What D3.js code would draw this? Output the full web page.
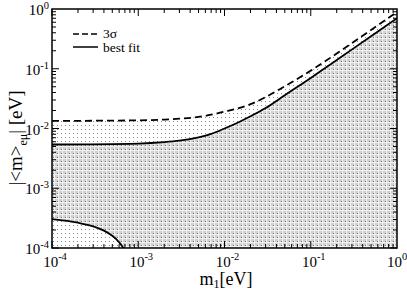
<!DOCTYPE html>
<html>
<head>
<meta charset="utf-8">
<script src="https://cdn.jsdelivr.net/npm/d3@7"></script>
<style>
  body { margin: 0; background: #fff; }
  svg text { font-family: "Liberation Serif", "Times New Roman", Tinos, "DejaVu Serif", serif; }
</style>
</head>
<body>
<svg width="407" height="291"></svg>
<script>
// values
var m1Values   = [1e-4, 1e-3, 2e-3, 3e-3, 5e-3, 7e-3, 1e-2, 1.5e-2, 2e-2, 3e-2, 5e-2, 1e-1, 2e-1, 5e-1, 1];
var bestFit    = [5.4e-3, 5.6e-3, 5.9e-3, 6.25e-3, 7.1e-3, 8.1e-3, 1.0e-2, 0.0130, 0.0160, 0.022, 0.036, 0.070, 0.140, 0.35, 0.70];
var sigma3     = [0.0134, 0.0137, 0.0141, 0.0146, 0.0156, 0.0170, 0.0192, 0.0222, 0.0255, 0.0335, 0.051, 0.093, 0.180, 0.445, 0.89];
var lowM1      = [1e-4, 2e-4, 3e-4, 4e-4, 5e-4, 6e-4, 6.7e-4, 7.2e-4];
var lowBest    = [3.05e-4, 2.65e-4, 2.3e-4, 1.95e-4, 1.6e-4, 1.25e-4, 1.0e-4, 0.8e-4];
var tickExps   = [-4, -3, -2, -1, 0];

const pLeft = 52, pRight = 397, pTop = 9, pBottom = 248;

var svg = d3.select('svg');

var x = d3.scaleLog().domain([1e-4, 1]).range([pLeft, pRight]);
var y = d3.scaleLog().domain([1e-4, 1]).range([pBottom, pTop]);

var defs = svg.append('defs');

// sparse dots
var sparse = defs.append('pattern').attr('id', 'sparse')
    .attr('patternUnits', 'userSpaceOnUse').attr('width', 4).attr('height', 4);
sparse.append('rect').attr('width', 4).attr('height', 4).attr('fill', '#fff');
sparse.append('rect').attr('x', 1).attr('y', 1).attr('width', 1).attr('height', 1).attr('fill', '#8a8a8a');

// dense grid
var dense = defs.append('pattern').attr('id', 'dense')
    .attr('patternUnits', 'userSpaceOnUse').attr('width', 4).attr('height', 4);
dense.append('rect').attr('width', 4).attr('height', 4).attr('fill', '#d0d0d0');
dense.append('rect').attr('x', 0).attr('y', 2).attr('width', 4).attr('height', 1).attr('fill', '#f2f2f2');
dense.append('rect').attr('x', 2).attr('y', 0).attr('width', 1).attr('height', 4).attr('fill', '#f2f2f2');
dense.append('rect').attr('x', 1).attr('y', 1).attr('width', 1).attr('height', 1).attr('fill', '#707070');

defs.append('clipPath').attr('id', 'plot')
  .append('rect').attr('x', pLeft).attr('y', pTop)
  .attr('width', pRight - pLeft).attr('height', pBottom - pTop);

var plot = svg.append('g').attr('clip-path', 'url(#plot)');

function pts(xs, ys) { return xs.map((v, i) => [v, ys[i]]); }

var area = d3.area()
    .x(d => x(d[0])).y0(pBottom + 5).y1(d => y(d[1]))
    .curve(d3.curveMonotoneX);
var line = d3.line()
    .x(d => x(d[0])).y(d => y(d[1]))
    .curve(d3.curveMonotoneX);

plot.append('path').attr('d', area(pts(m1Values, sigma3))).attr('fill', 'url(#sparse)');
plot.append('path').attr('d', area(pts(m1Values, bestFit))).attr('fill', 'url(#dense)');
plot.append('path').attr('d', area(pts(lowM1, lowBest))).attr('fill', 'url(#sparse)');

plot.append('path').attr('d', line(pts(m1Values, sigma3)))
    .attr('fill', 'none').attr('stroke', '#000').attr('stroke-width', 1.8)
    .attr('stroke-dasharray', '7,4');
plot.append('path').attr('d', line(pts(m1Values, bestFit)))
    .attr('fill', 'none').attr('stroke', '#000').attr('stroke-width', 1.8);
plot.append('path').attr('d', line(pts(lowM1, lowBest)))
    .attr('fill', 'none').attr('stroke', '#000').attr('stroke-width', 1.8);

// ticks on all four sides, pointing inwards
var ticks = svg.append('g').attr('stroke', '#000').attr('stroke-width', 1);
tickExps.slice(0, -1).forEach(function (e) {
  for (var k = 1; k <= 9; k++) {
    var v = k * Math.pow(10, e);
    var len = k === 1 ? 7 : 4;
    var px = x(v), py = y(v);
    ticks.append('line').attr('x1', px).attr('x2', px).attr('y1', pBottom).attr('y2', pBottom - len);
    ticks.append('line').attr('x1', px).attr('x2', px).attr('y1', pTop).attr('y2', pTop + len);
    ticks.append('line').attr('y1', py).attr('y2', py).attr('x1', pLeft).attr('x2', pLeft + len);
    ticks.append('line').attr('y1', py).attr('y2', py).attr('x1', pRight).attr('x2', pRight - len);
  }
});

svg.append('rect').attr('x', pLeft).attr('y', pTop)
    .attr('width', pRight - pLeft).attr('height', pBottom - pTop)
    .attr('fill', 'none').attr('stroke', '#000').attr('stroke-width', 1.5);

// tick labels
tickExps.forEach(function (e, i) {
  var v = Math.pow(10, e);
  var shift = i === tickExps.length - 1 ? 0 : 3;
  var t = svg.append('text').attr('x', x(v) + shift).attr('y', 267)
      .attr('text-anchor', 'middle').attr('font-size', 15);
  t.append('tspan').text('10');
  t.append('tspan').attr('dy', -7).attr('font-size', 10.5).text(String(e));

  var s = svg.append('text').attr('x', 49).attr('y', y(v) + 6)
      .attr('text-anchor', 'end').attr('font-size', 15);
  s.append('tspan').text('10');
  s.append('tspan').attr('dy', -6).attr('font-size', 10.5).text(String(e));
});

// axis titles
var xt = svg.append('text').attr('x', 226).attr('y', 285)
    .attr('text-anchor', 'middle').attr('font-size', 18);
xt.append('tspan').text('m');
xt.append('tspan').attr('dy', 3).attr('font-size', 12).text('1');
xt.append('tspan').attr('dy', -3).text('[eV]');

var yt = svg.append('text').attr('transform', 'translate(22,138) rotate(-90)')
    .attr('text-anchor', 'middle').attr('font-size', 19);
yt.append('tspan').text('|<m>');
yt.append('tspan').attr('dy', 5).attr('font-size', 12).text('eμ');
yt.append('tspan').attr('dy', -5).text('| [eV]');

// legend
var legend = svg.append('g').attr('font-size', 13.5);
legend.append('line').attr('x1', 73).attr('x2', 98).attr('y1', 34).attr('y2', 34)
    .attr('stroke', '#000').attr('stroke-width', 1.5).attr('stroke-dasharray', '6,3');
legend.append('text').attr('x', 103).attr('y', 38).text('3σ');
legend.append('line').attr('x1', 73).attr('x2', 98).attr('y1', 47).attr('y2', 47)
    .attr('stroke', '#000').attr('stroke-width', 1.5);
legend.append('text').attr('x', 103).attr('y', 51.5).text('best fit');
</script>
</body>
</html>
